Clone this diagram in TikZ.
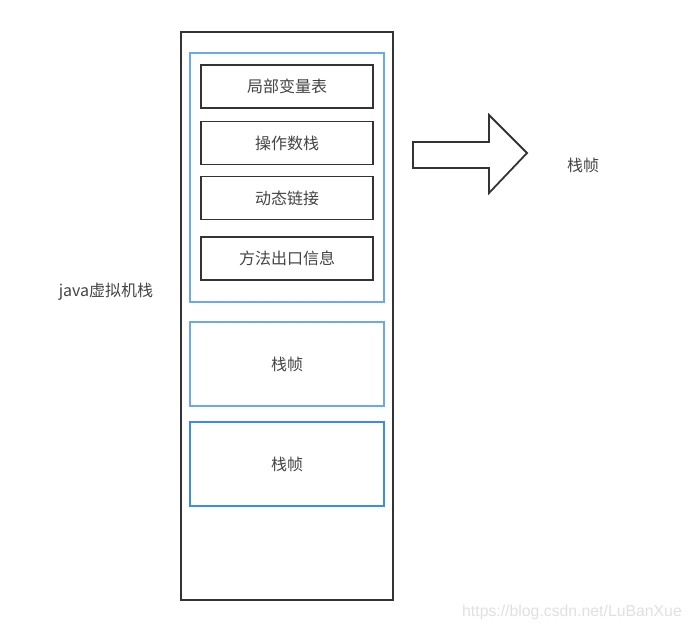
\documentclass[tikz,border=0pt]{standalone}
\usepackage{fontspec}
\setmainfont{Noto Sans CJK SC}
\newfontfamily\wmfont{Liberation Sans}
\usetikzlibrary{positioning}

\definecolor{framblue}{HTML}{6AAAE6}
\definecolor{deepblue}{HTML}{3C8FDD}
\definecolor{linegray}{HTML}{333333}
\definecolor{textgray}{HTML}{444444}

\begin{document}
\begin{tikzpicture}[x=1pt, y=-1pt,
  stackbox/.style={draw=linegray, line width=1.8pt, minimum width=212pt, minimum height=568pt},
  framebox/.style={draw=framblue, line width=1.6pt, minimum width=194pt, minimum height=249pt},
  slotbox/.style={draw=linegray, line width=1.8pt, minimum width=172pt, minimum height=43pt,
    font=\fontsize{16}{16}\selectfont, text=textgray},
  lbl/.style={font=\fontsize{16}{16}\selectfont, text=textgray}
]
\useasboundingbox (0,0) rectangle (692,630);

% java virtual machine stack
\node[stackbox] (stack) at (287,316) {};
\node[lbl] (stacklbl) at (106,292) {java虚拟机栈};

% top frame with its parts
\node[framebox] (frame1) at (287,177.5) {};
\node[slotbox] (locals) at (287,86.5) {局部变量表};
\node[slotbox] (operand) at (287,143) {操作数栈};
\node[slotbox] (dynlink) at (287,198) {动态链接};
\node[slotbox] (retinfo) at (287,258.5) {方法出口信息};

% lower frames
\node[framebox, minimum height=84pt, label={[lbl]center:栈帧}] (frame2) at (287,364) {};
\node[framebox, draw=deepblue, minimum height=84pt, label={[lbl]center:栈帧}] (frame3) at (287,464) {};

% big arrow and its label
\draw[linegray, line width=1.8pt, line join=miter]
  (413,142) -- (489,142) -- (489,115) -- (527,153) -- (489,193) -- (489,168) -- (413,168) -- cycle;
\node[lbl] (framelbl) at (583,165) {栈帧};

% watermark
\node[text=black!12, font=\wmfont\fontsize{15.8}{16}\selectfont] (wm) at (572,612) {https://blog.csdn.net/LuBanXue};

\end{tikzpicture}
\end{document}
